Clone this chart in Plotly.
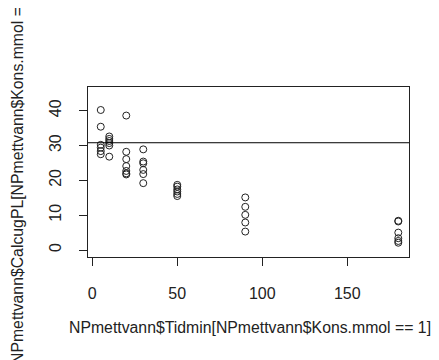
import plotly.graph_objects as go

# Data
tid_min = ([5] * 6 + [10] * 6 + [20] * 7 + [30] * 6 + [50] * 6 + [90] * 5 + [180] * 6)
calc_pl = [40.2, 35.4, 30.2, 29.4, 28.4, 27.5,
           32.6, 31.9, 31.3, 30.7, 30.0, 26.8,
           38.6, 28.2, 26.1, 24.1, 22.7, 22.0, 21.7,
           28.9, 25.4, 24.9, 23.0, 21.8, 19.2,
           18.7, 18.2, 17.4, 16.8, 16.1, 15.5,
           15.1, 12.4, 10.1, 7.9, 5.3,
           8.4, 8.2, 5.0, 3.4, 2.6, 2.1]
reference_level = 30.8
x_ticks = [0, 50, 100, 150]
y_ticks = [0, 10, 20, 30, 40]

FONT = "'Liberation Sans', Arial, sans-serif"

# The page body has a default 8px margin, so the figure is offset by (8, 8);
# margins below compensate so the plot box lands at page x 88-409, y 87-257.
L, T, R, B = 80, 79, 38, 111
PW, PH = 439 - L - R, 360 - T - B

fig = go.Figure()
fig.add_trace(go.Scatter(
    x=tid_min, y=calc_pl, mode="markers",
    marker=dict(symbol="circle-open", size=7, color="#222", line=dict(width=1, color="#222")),
    showlegend=False, cliponaxis=False,
))
fig.add_shape(type="line", xref="paper", x0=0, x1=1, yref="y",
              y0=reference_level, y1=reference_level,
              line=dict(color="black", width=1))

fig.update_layout(
    width=439, height=360,
    margin=dict(l=L, r=R, t=T, b=B),
    paper_bgcolor="white", plot_bgcolor="white",
    font=dict(family=FONT, size=16, color="#222"),
    xaxis=dict(range=[-2.5, 186.3], tickvals=x_ticks, ticks="outside", ticklen=8,
               tickcolor="#222", showgrid=False, zeroline=False,
               showline=True, linecolor="#222", linewidth=1, mirror=True,
               ticklabelstandoff=14),
    yaxis=dict(range=[-2.0, 46.8], tickvals=y_ticks, ticks="outside", ticklen=8,
               tickcolor="#222", showgrid=False, zeroline=False, tickangle=-90,
               showline=True, linecolor="#222", linewidth=1, mirror=True,
               ticklabelstandoff=12),
    annotations=[
        dict(text="NPmettvann$Tidmin[NPmettvann$Kons.mmol == 1]", xref="paper", yref="paper",
             x=(59 - L) / PW, y=-(319 - (T + PH)) / PH, xanchor="left", yanchor="middle",
             showarrow=False, font=dict(family=FONT, size=15.8, color="#222")),
        dict(text="NPmettvann$CalcugPL[NPmettvann$Kons.mmol == 1]", xref="paper", yref="paper",
             x=(9 - L) / PW, y=0.5, xanchor="center", yanchor="middle", textangle=-90,
             showarrow=False, font=dict(family=FONT, size=15.8, color="#222")),
    ],
)
fig.write_html("out.html")
